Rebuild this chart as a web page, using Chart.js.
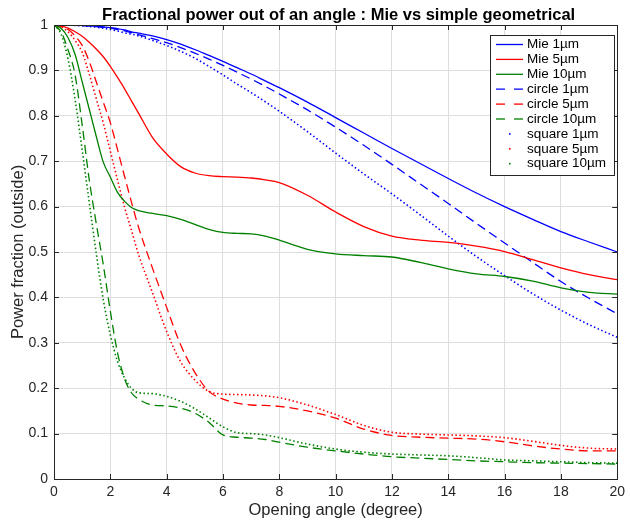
<!DOCTYPE html>
<html>
<head>
<meta charset="utf-8">
<script src="https://cdn.jsdelivr.net/npm/chart.js"></script>
<style>
  body { margin: 0; background: #fff; }
</style>
</head>
<body>
<canvas id="c" width="630" height="523"></canvas>
<script>
// opening angles (degree)
var angles = [0,0.25,0.5,0.75,1,1.25,1.5,1.75,2,2.25,2.5,2.75,3,3.5,4,4.5,5,5.5,6,6.5,7,7.5,8,9,10,11,12,13,14,15,16,17,18,19,20];

var mie1 = [1,1,0.9998,0.9995,0.999,0.998,0.997,0.996,0.994,0.992,0.989,0.985,0.982,0.976,0.968,0.958,0.946,0.933,0.92,0.906,0.892,0.877,0.862,0.83,0.796,0.762,0.728,0.695,0.662,0.63,0.60,0.572,0.545,0.522,0.50];
var mie5 = [1,0.998,0.993,0.985,0.975,0.962,0.947,0.93,0.909,0.885,0.86,0.833,0.806,0.752,0.716,0.688,0.674,0.668,0.666,0.665,0.663,0.659,0.653,0.625,0.588,0.556,0.535,0.526,0.521,0.513,0.501,0.483,0.465,0.45,0.439];
var mie10 = [1,0.993,0.972,0.935,0.875,0.815,0.755,0.698,0.665,0.632,0.612,0.598,0.591,0.585,0.58,0.572,0.561,0.55,0.543,0.541,0.54,0.535,0.526,0.506,0.496,0.492,0.489,0.477,0.463,0.452,0.446,0.436,0.421,0.411,0.407];

var circle1 = [1,1,0.9997,0.9993,0.9988,0.998,0.9965,0.995,0.993,0.99,0.987,0.983,0.979,0.97,0.961,0.95,0.938,0.925,0.911,0.896,0.881,0.865,0.848,0.813,0.775,0.735,0.693,0.65,0.607,0.563,0.52,0.477,0.435,0.398,0.364];
var circle5 = [1,0.997,0.99,0.976,0.955,0.92,0.875,0.83,0.785,0.727,0.668,0.61,0.555,0.464,0.378,0.295,0.235,0.193,0.176,0.167,0.163,0.162,0.16,0.15,0.134,0.11,0.096,0.092,0.09,0.088,0.082,0.073,0.066,0.062,0.062];
var circle10 = [1,0.985,0.945,0.89,0.78,0.66,0.563,0.472,0.37,0.28,0.222,0.19,0.176,0.163,0.161,0.156,0.145,0.125,0.097,0.092,0.09,0.087,0.081,0.07,0.062,0.055,0.049,0.046,0.043,0.04,0.038,0.036,0.035,0.034,0.033];

var square1 = [1,1,0.9996,0.999,0.998,0.997,0.995,0.993,0.99,0.987,0.983,0.98,0.976,0.966,0.955,0.942,0.927,0.909,0.89,0.87,0.851,0.831,0.81,0.765,0.718,0.672,0.628,0.582,0.535,0.49,0.448,0.408,0.372,0.34,0.312];
var square5 = [1,0.996,0.985,0.966,0.94,0.892,0.838,0.784,0.722,0.66,0.60,0.548,0.495,0.41,0.325,0.258,0.218,0.193,0.187,0.186,0.185,0.183,0.179,0.163,0.142,0.118,0.103,0.099,0.097,0.095,0.091,0.083,0.074,0.068,0.066];
var square10 = [1,0.98,0.925,0.835,0.725,0.61,0.497,0.395,0.318,0.26,0.223,0.2,0.19,0.188,0.182,0.171,0.155,0.135,0.115,0.102,0.1,0.097,0.091,0.077,0.066,0.059,0.055,0.053,0.051,0.047,0.042,0.04,0.038,0.036,0.035];

var xTicks = [0,2,4,6,8,10,12,14,16,18,20];
var yTicks = [0,0.1,0.2,0.3,0.4,0.5,0.6,0.7,0.8,0.9,1];

var TITLE = 'Fractional power out of an angle : Mie vs simple geometrical';
var BLUE = '#0000ff', RED = '#ff0000', GREEN = '#008000';
var DASH = [9, 5], DOT = [1.5, 2.5];
var FONT = '"Liberation Sans", Arial, Helvetica, sans-serif';

function pts( ys ){
	return ys.map(function( y, i ){ return { x: angles[ i ], y: y }; });
}

function serie( label, ys, color, dash, kind ){
	return {
		label: label,
		data: pts( ys ),
		borderColor: color,
		backgroundColor: color,
		borderWidth: kind == 'dot' ? 1.6 : 1.3,
		borderDash: dash,
		pointRadius: 0,
		fill: false,
		cubicInterpolationMode: 'monotone',
		kind: kind
	};
}

var datasets = [
	serie( 'Mie 1\u00b5m', mie1, BLUE, [], 'solid' ),
	serie( 'Mie 5\u00b5m', mie5, RED, [], 'solid' ),
	serie( 'Mie 10\u00b5m', mie10, GREEN, [], 'solid' ),
	serie( 'circle 1\u00b5m', circle1, BLUE, DASH, 'dash' ),
	serie( 'circle 5\u00b5m', circle5, RED, DASH, 'dash' ),
	serie( 'circle 10\u00b5m', circle10, GREEN, DASH, 'dash' ),
	serie( 'square 1\u00b5m', square1, BLUE, DOT, 'dot' ),
	serie( 'square 5\u00b5m', square5, RED, DOT, 'dot' ),
	serie( 'square 10\u00b5m', square10, GREEN, DOT, 'dot' )
];

// title over the axes, box round the plot, ticks pointing inward, legend inside the axes
var framePlugin = {
	id: 'frame',
	afterDraw: function( chart ){
		var ctx = chart.ctx, a = chart.chartArea,
			sx = chart.scales.x, sy = chart.scales.y;
		ctx.save();

		ctx.fillStyle = '#000';
		ctx.font = 'bold 16.5px ' + FONT;
		ctx.textAlign = 'center';
		ctx.textBaseline = 'alphabetic';
		ctx.fillText( TITLE, ( a.left + a.right ) / 2 + 3, 20 );
		ctx.textAlign = 'left';

		ctx.strokeStyle = '#262626';
		ctx.lineWidth = 1;
		ctx.beginPath();
		xTicks.forEach(function( v ){
			var p = Math.round( sx.getPixelForValue( v ) ) + 0.5;
			ctx.moveTo( p, a.bottom ); ctx.lineTo( p, a.bottom - 5 );
			ctx.moveTo( p, a.top ); ctx.lineTo( p, a.top + 5 );
		});
		yTicks.forEach(function( v ){
			var p = Math.round( sy.getPixelForValue( v ) ) + 0.5;
			ctx.moveTo( a.left, p ); ctx.lineTo( a.left + 5, p );
			ctx.moveTo( a.right, p ); ctx.lineTo( a.right - 5, p );
		});
		ctx.stroke();
		ctx.strokeRect( Math.round( a.left ) + 0.5, Math.round( a.top ) + 0.5, Math.round( a.right - a.left ), Math.round( a.bottom - a.top ) );

		// legend
		var lx = 490, ly = 35, lw = 124, lh = 140, step = 14.9;
		ctx.fillStyle = '#fff';
		ctx.fillRect( lx, ly, lw, lh );
		ctx.strokeStyle = '#262626';
		ctx.strokeRect( lx + 0.5, ly + 0.5, lw, lh );
		ctx.font = '13.5px ' + FONT;
		ctx.textBaseline = 'middle';
		chart.data.datasets.forEach(function( d, i ){
			var y = ly + 9.5 + i * step;
			ctx.strokeStyle = d.borderColor;
			ctx.fillStyle = d.borderColor;
			if ( d.kind == 'dot' ) {
				ctx.fillRect( 509, y - 0.8, 1.6, 1.6 );
			} else {
				ctx.lineWidth = d.borderWidth;
				ctx.setLineDash( d.kind == 'dash' ? [9, 9] : [] );
				ctx.beginPath();
				ctx.moveTo( 496, y ); ctx.lineTo( 523, y );
				ctx.stroke();
				ctx.setLineDash( [] );
			}
			ctx.fillStyle = '#000';
			ctx.fillText( d.label, 527, y );
		});
		ctx.restore();
	}
};

new Chart( document.getElementById( 'c' ).getContext( '2d' ), {
	type: 'line',
	data: { datasets: datasets },
	plugins: [ framePlugin ],
	options: {
		responsive: false,
		animation: false,
		devicePixelRatio: 1,
		layout: { padding: { left: 0, right: 9, top: 25, bottom: 0 } },
		plugins: {
			legend: { display: false },
			tooltip: { enabled: false },
			title: { display: false }
		},
		scales: {
			x: {
				type: 'linear',
				min: 0, max: 20,
				afterFit: function( s ){ s.height = 44; },
				afterBuildTicks: function( s ){ s.ticks = xTicks.map(function( v ){ return { value: v }; }); },
				grid: { color: '#dedede', drawTicks: false },
				border: { display: false },
				ticks: { color: '#262626', font: { family: FONT, size: 14 }, padding: 5, maxRotation: 0 },
				title: { display: true, text: 'Opening angle (degree)', color: '#262626', font: { family: FONT, size: 16.5 }, padding: { top: 0, bottom: 3 } }
			},
			y: {
				type: 'linear',
				min: 0, max: 1,
				afterFit: function( s ){ s.width = 54; },
				afterBuildTicks: function( s ){ s.ticks = yTicks.map(function( v ){ return { value: v }; }); },
				grid: { color: '#dedede', drawTicks: false },
				border: { display: false },
				ticks: {
					color: '#262626', font: { family: FONT, size: 14 }, padding: 6,
					callback: function( v ){ return String( Math.round( v * 10 ) / 10 ); }
				},
				title: { display: true, text: 'Power fraction (outside)', color: '#262626', font: { family: FONT, size: 16.5 }, padding: { top: 9, bottom: 0 } }
			}
		}
	}
});
</script>
</body>
</html>
